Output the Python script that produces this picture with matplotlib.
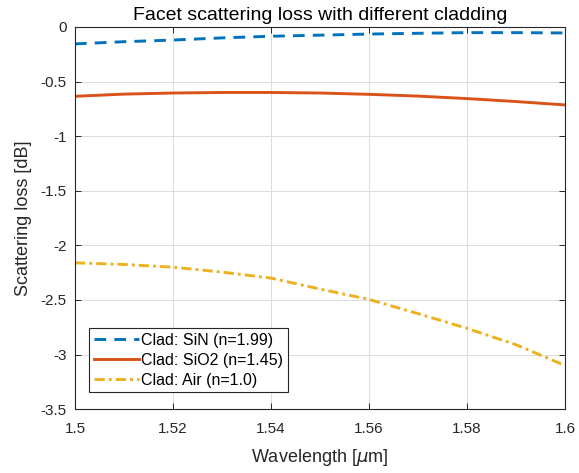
import numpy as np
import matplotlib
matplotlib.use('Agg')
import matplotlib.pyplot as plt

#-----------DATA-----------------------------------------#
wl = [1.50, 1.51, 1.52, 1.53, 1.54, 1.55, 1.56, 1.57, 1.58, 1.59, 1.60]
loss_sin = [-0.155, -0.135, -0.12, -0.10, -0.085, -0.075, -0.065, -0.058, -0.052, -0.052, -0.055]
loss_sio2 = [-0.635, -0.615, -0.605, -0.60, -0.60, -0.605, -0.617, -0.633, -0.656, -0.683, -0.714]
loss_air = [-2.16, -2.175, -2.20, -2.245, -2.30, -2.40, -2.495, -2.625, -2.76, -2.91, -3.10]
labels = ['Clad: SiN (n=1.99)', 'Clad: SiO2 (n=1.45)', 'Clad: Air (n=1.0)']

xticks = [1.5, 1.52, 1.54, 1.56, 1.58, 1.6]
yticks = [0, -0.5, -1, -1.5, -2, -2.5, -3, -3.5]

plt.rcParams['font.family'] = ['Liberation Sans', 'DejaVu Sans']
plt.rcParams['axes.unicode_minus'] = False

fig = plt.figure(figsize=(5.79, 4.73), dpi=100)
ax = fig.add_axes([0.1295, 0.135, 0.8463, 0.808])

ax.plot(wl, loss_sin, '--', color='#0072BD', lw=2.1, dashes=(4, 2.8), label=labels[0])
ax.plot(wl, loss_sio2, '-', color='#D95319', lw=2.1, label=labels[1])
ax.plot(wl, loss_air, '-.', color='#EDB120', lw=2.1, dashes=(3.5, 1.4, 1, 1.4), label=labels[2])

ax.set_xlim(1.5, 1.6)
ax.set_ylim(-3.5, 0)
ax.set_xticks(xticks)
ax.set_xticklabels(['%g' % t for t in xticks])
ax.set_yticks(yticks)
ax.set_yticklabels(['%g' % t for t in yticks])
ax.tick_params(direction='in', top=True, right=True, labelsize=11, length=4, width=0.7, colors='#262626')
ax.tick_params(axis='x', pad=9)
ax.tick_params(axis='y', pad=6)
ax.grid(True, color='#dcdcdc', lw=0.7)
for sp in ax.spines.values():
    sp.set_color('#262626')
    sp.set_linewidth(0.8)

ax.set_xlabel(r'Wavelength [$\mu$m]', fontsize=13, color='#262626', labelpad=8)
ax.set_ylabel('Scattering loss [dB]', fontsize=13, color='#262626', labelpad=6)
ax.set_title('Facet scattering loss with different cladding', fontsize=14, color='#000000', pad=5)

leg = ax.legend(loc='lower left', bbox_to_anchor=(0.029, 0.044), fontsize=11.5, fancybox=False,
                framealpha=1, edgecolor='#262626', handlelength=2.8, handletextpad=0.15,
                borderpad=0.3, labelspacing=0.3, borderaxespad=0)
leg.get_frame().set_linewidth(0.8)

fig.savefig('out.png', dpi=100)
